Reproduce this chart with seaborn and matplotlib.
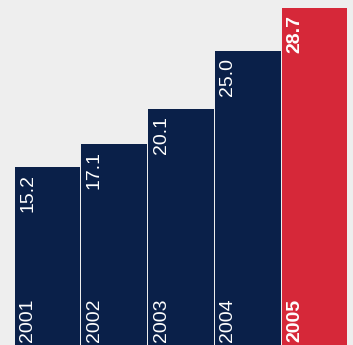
import matplotlib
matplotlib.use("Agg")
import matplotlib.pyplot as plt
import matplotlib.transforms as mtransforms
import seaborn as sns
import pandas as pd

years = ["2001", "2002", "2003", "2004", "2005"]
values = [15.2, 17.1, 20.1, 25.0, 28.7]
highlight = "2005"

navy = "#0a2049"
red = "#d62839"
bg = "#eeeeee"

sns.set_theme(style="white")
plt.rcParams["font.family"] = ["Liberation Sans", "DejaVu Sans"]

df = pd.DataFrame({"year": years, "value": values})
palette = {y: (red if y == highlight else navy) for y in years}

W, H, DPI = 353, 345, 100
fig = plt.figure(figsize=(W / DPI, H / DPI), dpi=DPI, facecolor=bg)
ax = fig.add_axes([14 / W, 0, (348 - 14) / W, 1])
ax.set_facecolor(bg)

sns.barplot(data=df, x="year", y="value", hue="year", palette=palette,
            legend=False, width=0.985, saturation=1, linewidth=0, ax=ax)

ax.set_xlim(-0.5, len(years) - 0.5)
ax.set_ylim(0, max(values) * H / 337)
ax.set_axis_off()

for i, (yr, v) in enumerate(zip(years, values)):
    weight = "bold" if yr == highlight else "normal"
    left = i - 0.985 / 2
    off_top = mtransforms.offset_copy(ax.transData, fig=fig, x=4.5, y=-7, units="dots")
    ax.text(left, v, f"{v:.1f}", transform=off_top, rotation=90,
            ha="left", va="top", color="white", fontsize=14, fontweight=weight)
    off_bot = mtransforms.offset_copy(ax.transData, fig=fig, x=4.5, y=3, units="dots")
    ax.text(left, 0, yr, transform=off_bot, rotation=90,
            ha="left", va="bottom", color="white", fontsize=14, fontweight=weight)

fig.savefig("out.png", dpi=DPI, facecolor=bg)
